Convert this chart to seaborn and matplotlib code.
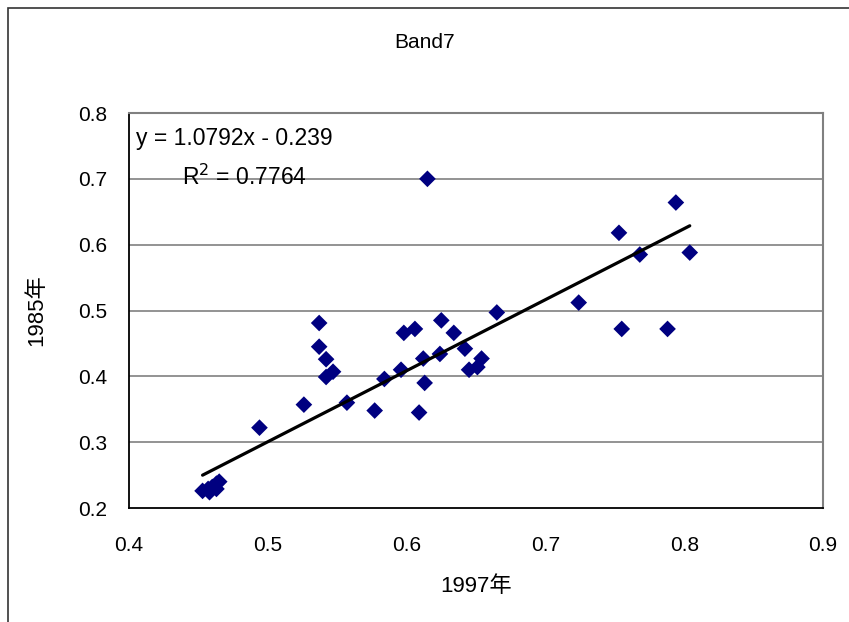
import numpy as np
import pandas as pd
import seaborn as sns
import matplotlib.pyplot as plt
from matplotlib.patches import Rectangle

# values
x_1997 = [0.615, 0.794, 0.753, 0.768, 0.804, 0.724, 0.755, 0.788,
          0.537, 0.537, 0.542, 0.542, 0.547, 0.526, 0.494, 0.557,
          0.577, 0.584, 0.596, 0.598, 0.606, 0.609, 0.612, 0.613,
          0.625, 0.624, 0.634, 0.642, 0.645, 0.651, 0.654, 0.665,
          0.453, 0.457, 0.460, 0.463, 0.463, 0.458, 0.465]
y_1985 = [0.700, 0.664, 0.618, 0.585, 0.588, 0.512, 0.472, 0.472,
          0.481, 0.445, 0.426, 0.399, 0.407, 0.357, 0.322, 0.360,
          0.348, 0.396, 0.410, 0.466, 0.472, 0.345, 0.427, 0.390,
          0.485, 0.434, 0.466, 0.442, 0.410, 0.414, 0.427, 0.497,
          0.226, 0.229, 0.232, 0.229, 0.237, 0.224, 0.240]
slope = 1.0792
intercept = -0.239
r2 = 0.7764
x_ticks = [0.4, 0.5, 0.6, 0.7, 0.8, 0.9]
y_ticks = [0.2, 0.3, 0.4, 0.5, 0.6, 0.7, 0.8]

df = pd.DataFrame({"x": x_1997, "y": y_1985})

sns.set_style("white")
plt.rcParams['font.family'] = ['Liberation Sans', 'Noto Sans CJK JP', 'DejaVu Sans']
plt.rcParams['text.color'] = 'black'
plt.rcParams['axes.labelcolor'] = 'black'
plt.rcParams['xtick.color'] = 'black'
plt.rcParams['ytick.color'] = 'black'

fig = plt.figure(figsize=(8.49, 6.22), dpi=100)
ax = fig.add_axes([129 / 849, 1 - 508 / 622, (823 - 129) / 849, (508 - 113) / 622])

for yv in y_ticks[1:]:
    ax.axhline(yv, color='#808080', linewidth=1.2, zorder=0)

sns.scatterplot(data=df, x="x", y="y", marker='D', s=72, color='#000080',
                edgecolor='none', ax=ax, zorder=3, legend=False)

# trend line across the data range
xs = np.array([df["x"].min(), df["x"].max()])
ax.plot(xs, slope * xs + intercept, color='black', linewidth=2.3, zorder=4)

ax.set_xlim(0.4, 0.9)
ax.set_ylim(0.2, 0.8)
ax.set_xticks(x_ticks)
ax.set_yticks(y_ticks)
ax.set_xticklabels([f"{v:.1f}" for v in x_ticks])
ax.set_yticklabels([f"{v:.1f}" for v in y_ticks])
ax.tick_params(axis='x', direction='in', length=6, width=1, pad=20, labelsize=15)
ax.tick_params(axis='y', direction='in', length=0, pad=16, labelsize=15)

for side in ['left', 'bottom']:
    ax.spines[side].set_color('black')
    ax.spines[side].set_linewidth(1.3)
for side in ['top', 'right']:
    ax.spines[side].set_color('#808080')
    ax.spines[side].set_linewidth(1.5)

ax.set_xlabel("1997年", fontsize=16, labelpad=15)
ax.set_ylabel("1985年", fontsize=16, labelpad=22)

ax.text(136 / 849, 1 - 139 / 622, f"y = {slope}x - {abs(intercept)}",
        transform=fig.transFigure, fontsize=16.5, va='center', ha='left')
ax.text(182 / 849, 1 - 177 / 622, f"R$^2$ = {r2}",
        transform=fig.transFigure, fontsize=16.5, va='center', ha='left')

fig.text(0.5, 1 - 43 / 622, "Band7", fontsize=15, ha='center', va='center')

# chart frame
fig.patches.append(Rectangle((8 / 849, -0.1), 1.2, 1.1 - 8 / 622,
                             transform=fig.transFigure, fill=False,
                             edgecolor='#333333', linewidth=1.2))

fig.savefig("out.png", dpi=100)
